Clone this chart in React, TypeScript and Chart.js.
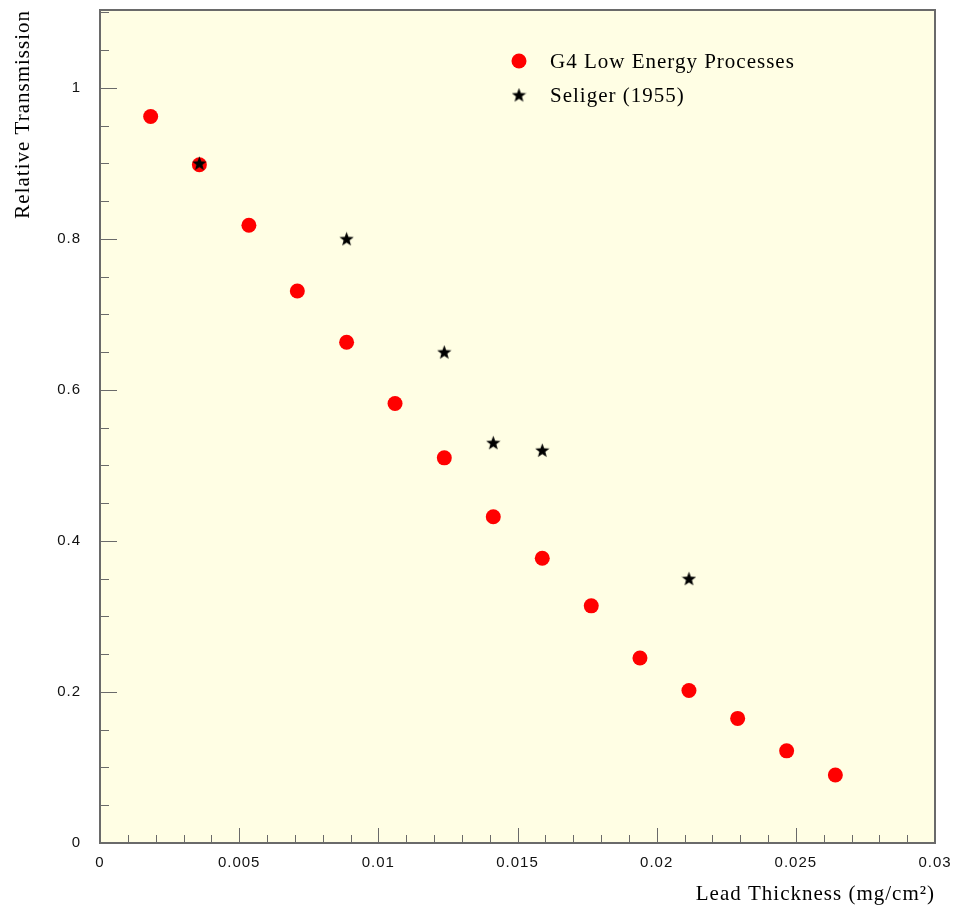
import React, { useEffect, useRef } from 'react';
import { Chart, registerables } from 'chart.js';

Chart.register(...registerables);

// ---- Data ----
const g4Thickness = [0.00182, 0.00357, 0.00535, 0.00709, 0.00886, 0.0106, 0.01237, 0.01413, 0.01589, 0.01765, 0.0194, 0.02116, 0.02291, 0.02467, 0.02642];
const g4Transmission = [0.962, 0.898, 0.818, 0.731, 0.663, 0.582, 0.510, 0.432, 0.377, 0.314, 0.245, 0.202, 0.165, 0.122, 0.090];
const seligerThickness = [0.00357, 0.00886, 0.01237, 0.01413, 0.01589, 0.02116];
const seligerTransmission = [0.90, 0.80, 0.65, 0.53, 0.52, 0.35];
const seriesNames = ['G4 Low Energy Processes', 'Seliger (1955)'];
const xTickLabels = ['0', '0.005', '0.01', '0.015', '0.02', '0.025', '0.03'];
const yTickLabels = ['0', '0.2', '0.4', '0.6', '0.8', '1'];
const xTitle = 'Lead Thickness (mg/cm\u00B2)';
const yTitle = 'Relative Transmission';

const SERIF = '"Liberation Serif", "Times New Roman", serif';
const SANS = '"Liberation Sans", Arial, sans-serif';
const FRAME = '#6a6a6a';

function makeStar(size: number, color: string) {
  const c = document.createElement('canvas');
  c.width = size;
  c.height = size;
  const ctx = c.getContext('2d')!;
  const cx = size / 2;
  const cy = size / 2 + 0.6;
  const R = size / 2;
  const r = R * 0.42;
  ctx.beginPath();
  for (let i = 0; i < 10; i++) {
    const ang = -Math.PI / 2 + (i * Math.PI) / 5;
    const rad = i % 2 === 0 ? R : r;
    ctx.lineTo(cx + rad * Math.cos(ang), cy + rad * Math.sin(ang));
  }
  ctx.closePath();
  ctx.fillStyle = color;
  ctx.fill();
  return c;
}

export default function App() {
  const ref = useRef<HTMLCanvasElement>(null);

  useEffect(() => {
    const canvas = ref.current!;
    const star = makeStar(15, '#000000');

    const framePlugin = {
      id: 'framePlugin',
      beforeDraw(chart: any) {
        const ctx = chart.ctx;
        try { (ctx as any).letterSpacing = '1px'; } catch (e) {}
        const { left, top, right, bottom } = chart.chartArea;
        ctx.save();
        ctx.fillStyle = '#fffee4';
        ctx.fillRect(left, top, right - left, bottom - top);
        ctx.restore();
      },
      afterDatasetsDraw(chart: any) {
        const ctx = chart.ctx;
        const { left, top, right, bottom } = chart.chartArea;
        const xs = chart.scales.x;
        const ys = chart.scales.y;
        ctx.save();
        ctx.strokeStyle = FRAME;
        ctx.lineWidth = 1;
        ctx.beginPath();
        for (let i = 0; i <= 30; i++) {
          const v = i * 0.001;
          const px = Math.round(xs.getPixelForValue(v)) + 0.5;
          const len = i % 5 === 0 ? 15 : 8;
          ctx.moveTo(px, bottom);
          ctx.lineTo(px, bottom - len);
        }
        for (let i = 0; i * 0.05 <= ys.max + 1e-9; i++) {
          const v = i * 0.05;
          const py = Math.round(ys.getPixelForValue(v)) + 0.5;
          const len = i % 4 === 0 ? 17 : 9;
          ctx.moveTo(left, py);
          ctx.lineTo(left + len, py);
        }
        ctx.stroke();
        ctx.lineWidth = 2;
        ctx.strokeRect(left, top, right - left, bottom - top);
        ctx.restore();
      },
      afterDraw(chart: any) {
        const ctx = chart.ctx;
        const { left, top } = chart.chartArea;
        const mx = left + 419;
        const tx = left + 450;
        const y1 = top + 51;
        const y2 = top + 85;
        ctx.save();
        ctx.fillStyle = '#ff0000';
        ctx.beginPath();
        ctx.arc(mx, y1, 7.5, 0, Math.PI * 2);
        ctx.fill();
        ctx.drawImage(star, mx - star.width / 2, y2 - star.height / 2);
        ctx.fillStyle = '#000000';
        ctx.font = `21px ${SERIF}`;
        ctx.textBaseline = 'alphabetic';
        ctx.textAlign = 'left';
        ctx.fillText(seriesNames[0], tx, y1 + 7);
        ctx.fillText(seriesNames[1], tx, y2 + 7);
        ctx.restore();
      },
    };

    const chart = new Chart(canvas, {
      type: 'scatter',
      data: {
        datasets: [
          {
            label: seriesNames[1],
            data: seligerThickness.map((x, i) => ({ x, y: seligerTransmission[i] })),
            pointStyle: star as any,
            pointRadius: 7,
            order: 0,
          },
          {
            label: seriesNames[0],
            data: g4Thickness.map((x, i) => ({ x, y: g4Transmission[i] })),
            pointStyle: 'circle',
            pointRadius: 7.5,
            backgroundColor: '#ff0000',
            borderColor: '#ff0000',
            borderWidth: 0,
            order: 1,
          },
        ],
      },
      options: {
        responsive: false,
        maintainAspectRatio: false,
        animation: false,
        events: [],
        layout: { padding: { left: 0, top: 10, right: 18, bottom: 0 } },
        plugins: {
          legend: { display: false },
          tooltip: { enabled: false },
        },
        scales: {
          x: {
            type: 'linear',
            min: 0,
            max: 0.03,
            afterFit: (s: any) => {
              s.height = 63;
              s.paddingLeft = 0;
              s.paddingRight = 0;
              s.paddingTop = 0;
              s.paddingBottom = 0;
            },
            grid: { display: false, drawTicks: false },
            border: { display: false },
            ticks: {
              stepSize: 0.005,
              padding: 11,
              maxRotation: 0,
              autoSkip: false,
              color: '#111111',
              font: { family: SANS, size: 15 },
              callback: (v: any, i: number) => xTickLabels[i] ?? String(+Number(v).toFixed(4)),
            },
            title: {
              display: true,
              text: xTitle,
              align: 'end',
              color: '#000000',
              font: { family: SERIF, size: 21 },
              padding: { top: 0, bottom: -1 },
            },
          },
          y: {
            type: 'linear',
            min: 0,
            max: 1.103,
            afterFit: (s: any) => {
              s.width = 100;
              s.paddingLeft = 0;
              s.paddingRight = 0;
              s.paddingTop = 0;
              s.paddingBottom = 0;
            },
            afterBuildTicks: (s: any) => { s.ticks = s.ticks.filter((t: any) => t.value <= 1.0001); },
            grid: { display: false, drawTicks: false },
            border: { display: false },
            ticks: {
              stepSize: 0.2,
              includeBounds: false,
              padding: 19,
              color: '#111111',
              font: { family: SANS, size: 15 },
              callback: (v: any, i: number) => yTickLabels[i] ?? String(+Number(v).toFixed(2)),
            },
            title: {
              display: true,
              text: yTitle,
              align: 'end',
              color: '#000000',
              font: { family: SERIF, size: 21 },
              padding: { top: 11, bottom: 0 },
            },
          },
        },
      } as any,
      plugins: [framePlugin],
    });

    return () => chart.destroy();
  }, []);

  return (
    <div style={{ position: 'absolute', left: 0, top: 0, width: 953, height: 906, background: '#ffffff' }}>
      <canvas ref={ref} width={953} height={906} style={{ display: 'block' }} />
    </div>
  );
}
